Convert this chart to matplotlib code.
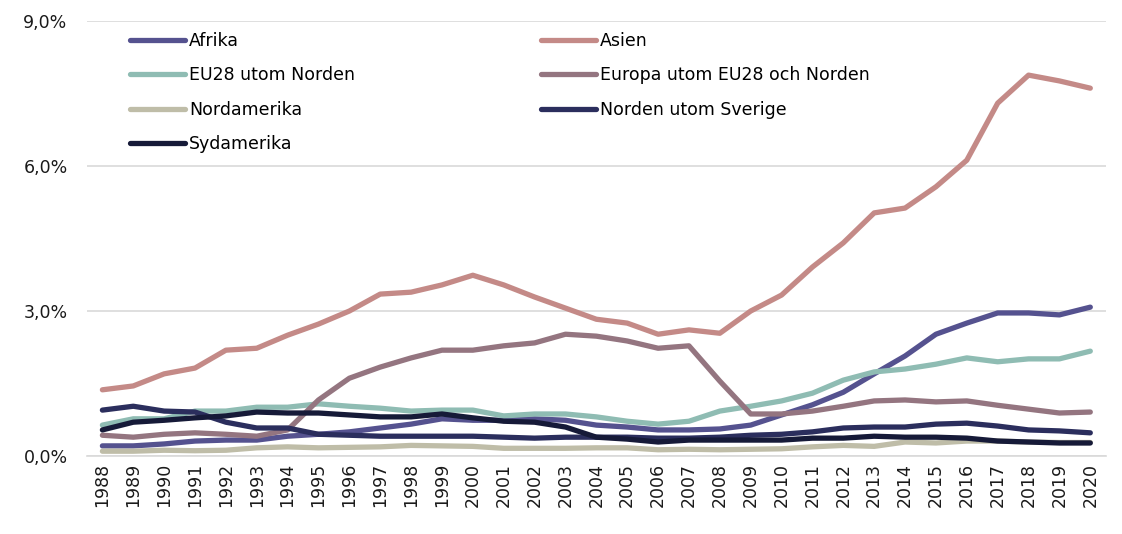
import numpy as np
import matplotlib
matplotlib.use("Agg")
import matplotlib.pyplot as plt
from matplotlib.ticker import FuncFormatter

years = list(range(1988, 2021))

afrika = [0.21, 0.21, 0.25, 0.31, 0.33, 0.33, 0.41, 0.45, 0.50, 0.58, 0.66, 0.77, 0.74, 0.74, 0.77, 0.74,
          0.64, 0.60, 0.54, 0.54, 0.56, 0.64, 0.85, 1.06, 1.32, 1.70, 2.07, 2.52, 2.75, 2.96, 2.96, 2.92, 3.08]
asien = [1.37, 1.45, 1.70, 1.82, 2.19, 2.23, 2.50, 2.73, 3.00, 3.35, 3.39, 3.54, 3.74, 3.54, 3.29, 3.06,
         2.83, 2.75, 2.52, 2.61, 2.54, 3.00, 3.33, 3.91, 4.41, 5.03, 5.13, 5.57, 6.12, 7.30, 7.88, 7.76, 7.61]
eu28 = [0.64, 0.77, 0.77, 0.93, 0.93, 1.01, 1.01, 1.08, 1.03, 0.99, 0.93, 0.95, 0.95, 0.83, 0.87, 0.87,
        0.81, 0.72, 0.66, 0.72, 0.93, 1.03, 1.14, 1.30, 1.57, 1.74, 1.80, 1.90, 2.03, 1.95, 2.01, 2.01, 2.17]
europa = [0.43, 0.39, 0.45, 0.48, 0.45, 0.41, 0.54, 1.16, 1.61, 1.84, 2.03, 2.19, 2.19, 2.28, 2.34, 2.52,
          2.48, 2.38, 2.23, 2.28, 1.55, 0.87, 0.87, 0.93, 1.03, 1.14, 1.16, 1.12, 1.14, 1.05, 0.97, 0.89, 0.91]
nordamerika = [0.10, 0.10, 0.12, 0.11, 0.12, 0.17, 0.19, 0.17, 0.18, 0.19, 0.22, 0.21, 0.20, 0.16, 0.16, 0.16,
               0.17, 0.17, 0.13, 0.14, 0.13, 0.14, 0.15, 0.19, 0.22, 0.20, 0.29, 0.27, 0.31, 0.31, 0.29, 0.28, 0.28]
norden = [0.95, 1.03, 0.93, 0.91, 0.70, 0.58, 0.58, 0.45, 0.43, 0.41, 0.41, 0.41, 0.41, 0.39, 0.37, 0.39,
          0.39, 0.39, 0.37, 0.37, 0.39, 0.43, 0.45, 0.50, 0.58, 0.60, 0.60, 0.66, 0.68, 0.62, 0.54, 0.52, 0.48]
sydamerika = [0.54, 0.70, 0.74, 0.79, 0.83, 0.91, 0.89, 0.89, 0.85, 0.81, 0.81, 0.87, 0.79, 0.72, 0.70, 0.60,
              0.39, 0.35, 0.29, 0.33, 0.33, 0.33, 0.33, 0.37, 0.37, 0.41, 0.39, 0.39, 0.37, 0.31, 0.29, 0.27, 0.27]

series = [
    ("Afrika", afrika, "#55528f"),
    ("Asien", asien, "#c48a87"),
    ("EU28 utom Norden", eu28, "#8fbcb3"),
    ("Europa utom EU28 och Norden", europa, "#947580"),
    ("Nordamerika", nordamerika, "#bfbda8"),
    ("Norden utom Sverige", norden, "#2b2e5d"),
    ("Sydamerika", sydamerika, "#161a38"),
]

plt.rcParams["font.family"] = ["DejaVu Sans"]
fig = plt.figure(figsize=(11.22, 5.34), dpi=100)
ax = fig.add_axes([0.0775, 0.146, 0.908, 0.8147])

lines = {}
for name, vals, col in series:
    ln, = ax.plot(years, vals, color=col, lw=3.8, solid_capstyle="round", solid_joinstyle="round", label=name)
    lines[name] = ln

ax.set_xlim(1987.5, 2020.5)
ax.set_ylim(0, 9)
ax.set_yticks([0, 3, 6, 9])
ax.yaxis.set_major_formatter(FuncFormatter(lambda v, p: f"{v:.1f}%".replace(".", ",")))
ax.set_xticks(years)
ax.set_xticklabels([str(y) for y in years], rotation=90)
ax.tick_params(axis="both", length=0, labelsize=12.5, colors="#1a1a1a")
ax.tick_params(axis="y", pad=14)
ax.tick_params(axis="x", pad=5)
ax.grid(axis="y", color="#d9d9d9", lw=1.2)
ax.set_axisbelow(True)
for s in ["top", "right", "left"]:
    ax.spines[s].set_visible(False)
ax.spines["bottom"].set_color("#d9d9d9")
ax.spines["bottom"].set_linewidth(1.2)

order = ["Afrika", "EU28 utom Norden", "Nordamerika", "Sydamerika",
         "Asien", "Europa utom EU28 och Norden", "Norden utom Sverige"]
leg = ax.legend([lines[n] for n in order], order, ncol=2, loc="upper left",
                bbox_to_anchor=(0.042, 0.975), frameon=False, fontsize=12.5,
                handlelength=3.2, handletextpad=0.2, columnspacing=10.7,
                labelspacing=0.95, borderpad=0, borderaxespad=0)

fig.savefig("out.png", dpi=100)
